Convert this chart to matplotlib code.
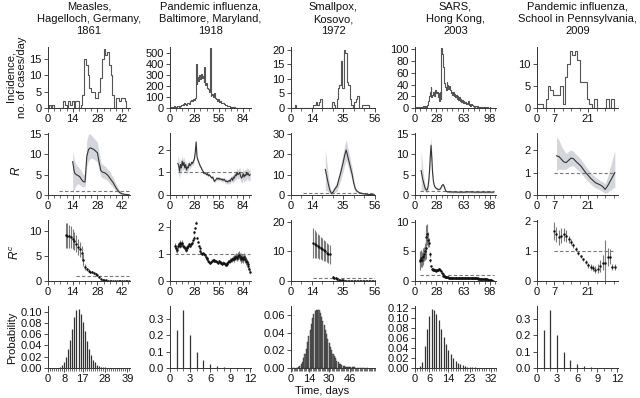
import numpy as np
import matplotlib
matplotlib.use("Agg")
import matplotlib.pyplot as plt
from matplotlib.ticker import FixedLocator, MultipleLocator

plt.rcParams['font.family'] = ['Liberation Sans', 'DejaVu Sans']
plt.rcParams['font.size'] = 8
plt.rcParams['mathtext.fontset'] = 'custom'
plt.rcParams['mathtext.it'] = 'Liberation Sans:italic'
plt.rcParams['mathtext.rm'] = 'Liberation Sans'

TITLES = ["Measles,\nHagelloch, Germany,\n1861",
          "Pandemic influenza,\nBaltimore, Maryland,\n1918",
          "Smallpox,\nKosovo,\n1972",
          "SARS,\nHong Kong,\n2003",
          "Pandemic influenza,\nSchool in Pennsylvania,\n2009"]

# --- row 1: daily incidence (first day of each series is day 0) ---
inc_measles = [0, 1, 0, 1, 0, 0, 0, 0, 0, 2,
               1, 0, 2, 1, 2, 0, 2, 2, 0, 1,
               4, 15, 13, 10, 6, 5, 5, 3, 3, 5,
               9, 15, 18, 16, 17, 13, 10, 4, 0, 3,
               3, 2, 3, 3, 2, 0, 0]
inc_baltimore = [5, 8, 10, 12, 8, 15, 10, 12, 20, 15,
                 18, 12, 20, 25, 30, 40, 28, 45, 35, 30,
                 45, 50, 40, 55, 60, 70, 65, 80, 75, 90,
                 400, 220, 280, 250, 300, 260, 310, 270, 290, 240,
                 370, 210, 230, 180, 170, 150, 550, 110, 120, 130,
                 100, 140, 90, 80, 70, 60, 85, 55, 60, 50,
                 45, 50, 35, 40, 30, 25, 20, 18, 15, 12,
                 10, 8, 6, 5, 5, 4, 4, 3, 3, 2,
                 3, 2, 2, 1, 2, 1, 1, 1, 0, 1,
                 0, 1, 0]
inc_kosovo = [0, 0, 0, 1, 0, 0, 0, 0, 0, 0,
              0, 0, 0, 0, 0, 1, 1, 2, 1, 2,
              3, 0, 0, 0, 0, 0, 0, 0, 2, 1,
              0, 3, 7, 8, 16, 7, 20, 19, 9, 8,
              3, 1, 0, 2, 3, 4, 0, 0, 1, 1,
              1, 1, 1, 0, 0, 0, 0]
inc_sars = [0, 0, 1, 0, 2, 1, 0, 1, 2, 1,
            2, 3, 1, 2, 3, 2, 5, 8, 12, 20,
            28, 35, 18, 22, 28, 24, 20, 30, 26, 28,
            18, 25, 12, 28, 15, 102, 92, 70, 50, 42,
            35, 30, 44, 40, 33, 38, 30, 25, 28, 22,
            28, 20, 24, 18, 22, 15, 20, 14, 18, 12,
            15, 10, 14, 9, 12, 8, 10, 7, 9, 6,
            12, 5, 7, 4, 6, 5, 3, 4, 2, 3,
            4, 2, 3, 1, 2, 1, 2, 1, 1, 0,
            1, 2, 0, 1, 0, 1, 0, 0, 1, 0,
            0, 0, 0]
inc_penn = [1, 1, 1, 0, 2, 5, 4, 3, 3, 3,
            5, 1, 7, 10, 13, 12, 13, 11, 6, 6,
            6, 2, 1, 0, 2, 0, 0, 0, 0, 2,
            0, 2, 0]

# --- row 2: case reproduction number R with band ---
r_measles_start = 14
r_measles = [8.2, 5.5, 5.0, 4.8, 4.5, 3.8, 3.3, 3.2, 9.5, 11.2,
             11.6, 11.4, 11.2, 10.8, 10.4, 8.0, 6.0, 5.6, 5.5, 5.2,
             4.8, 4.2, 3.6, 3.0, 2.2, 1.5, 0.9, 0.5, 0.3, 0.2,
             0.15, 0.1, 0.05]
r_measles_lo = [1.0, 1.5, 2.5, 2.8, 2.5, 2.2, 2.0, 2.0, 7.0, 8.5,
                9.0, 9.0, 8.8, 8.5, 8.0, 6.0, 4.5, 4.2, 4.0, 3.8,
                3.4, 2.8, 2.3, 1.8, 1.2, 0.8, 0.4, 0.2, 0.1, 0.05,
                0.03, 0.02, 0.0]
r_measles_hi = [11.0, 8.5, 7.5, 7.0, 6.5, 5.8, 5.0, 5.0, 13.5, 15.0,
                15.0, 14.5, 14.0, 13.5, 13.0, 10.5, 8.0, 7.5, 7.2, 6.8,
                6.3, 5.8, 5.0, 4.3, 3.3, 2.4, 1.6, 1.0, 0.6, 0.4,
                0.3, 0.2, 0.1]

r_balt_start = 9
r_balt = [1.40, 1.30, 1.05, 1.35, 1.20, 1.50, 1.30, 1.45, 1.20, 1.35,
          1.10, 1.25, 1.20, 1.40, 1.30, 1.35, 1.45, 1.40, 1.50, 1.60,
          1.90, 2.35, 1.70, 1.55, 1.45, 1.35, 1.25, 1.20, 1.10, 1.05,
          0.95, 1.00, 0.95, 0.90, 0.95, 0.85, 0.90, 0.85, 0.80, 0.75,
          0.80, 0.70, 0.60, 0.65, 0.70, 0.75, 0.70, 0.75, 0.70, 0.72,
          0.68, 0.70, 0.65, 0.70, 0.65, 0.60, 0.62, 0.58, 0.60, 0.65,
          0.60, 0.70, 0.75, 0.65, 0.80, 0.75, 0.90, 0.85, 1.00, 0.90,
          0.95, 1.00, 0.85, 0.75, 0.80, 0.95, 0.80, 0.90, 0.85, 1.00,
          0.90, 0.95, 0.85, 0.90]
r_balt_hw = [0.35, 0.35, 0.30, 0.30, 0.30, 0.30, 0.25, 0.25, 0.25, 0.20,
             0.20, 0.20, 0.15, 0.15, 0.15, 0.12, 0.12, 0.10, 0.10, 0.10,
             0.10, 0.12, 0.10, 0.08, 0.08, 0.08, 0.07, 0.07, 0.07, 0.07,
             0.06, 0.06, 0.06, 0.06, 0.06, 0.06, 0.06, 0.06, 0.06, 0.06,
             0.07, 0.07, 0.07, 0.07, 0.07, 0.07, 0.08, 0.08, 0.08, 0.08,
             0.08, 0.09, 0.09, 0.10, 0.10, 0.10, 0.10, 0.11, 0.11, 0.12,
             0.12, 0.13, 0.14, 0.15, 0.16, 0.17, 0.18, 0.20, 0.20, 0.20,
             0.22, 0.22, 0.22, 0.22, 0.24, 0.25, 0.25, 0.25, 0.25, 0.25,
             0.25, 0.25, 0.25, 0.25]

r_kos_start = 23
r_kos = [12.5, 9.0, 5.5, 2.5, 0.8, 1.2, 2.5, 3.5, 4.5, 7.5,
         10.0, 13.0, 16.0, 19.5, 22.0, 19.0, 16.0, 13.0, 10.0, 6.0,
         3.2, 2.0, 1.5, 1.1, 0.9, 0.7, 0.55, 0.45, 0.35, 0.3,
         0.25, 0.2, 0.15, 0.1]
r_kos_hw = [10.0, 7.0, 4.0, 2.0, 1.0, 1.2, 1.5, 2.0, 2.5, 3.0,
            3.5, 4.0, 4.5, 5.0, 5.0, 4.5, 4.0, 3.5, 3.0, 2.0,
            1.2, 0.8, 0.6, 0.5, 0.4, 0.3, 0.3, 0.2, 0.2, 0.2,
            0.1, 0.1, 0.1, 0.1]

r_sars_start = 8
r_sars = [6.0, 5.0, 4.0, 3.2, 2.5, 1.8, 1.4, 1.2, 1.3, 2.0,
          3.5, 6.0, 9.5, 12.2, 9.0, 5.5, 3.5, 2.5, 2.0, 1.8,
          1.6, 1.5, 1.4, 1.35, 1.4, 1.5, 1.8, 2.2, 2.5, 2.5,
          2.2, 1.6, 1.1, 0.90, 0.80, 0.78, 0.76,
          0.76, 0.75, 0.75, 0.74, 0.74, 0.73, 0.73, 0.72, 0.72, 0.72,
          0.71, 0.71, 0.70, 0.70, 0.70, 0.70, 0.70, 0.70, 0.70, 0.70,
          0.71, 0.72, 0.73, 0.74, 0.75, 0.76, 0.76, 0.75, 0.74, 0.73,
          0.72, 0.72, 0.71, 0.70, 0.70, 0.70, 0.70, 0.70, 0.70, 0.70,
          0.70, 0.70, 0.70, 0.70, 0.70, 0.70, 0.70, 0.70, 0.70, 0.70,
          0.70, 0.70, 0.70, 0.70, 0.70, 0.70, 0.70, 0.70, 0.70]
r_sars_hw = [5.0, 4.0, 3.0, 2.0, 1.5, 1.0, 0.7, 0.6, 0.6, 0.8,
             1.2, 1.5, 2.0, 2.0, 1.5, 1.0, 0.6, 0.4, 0.3, 0.3,
             0.25, 0.25, 0.2, 0.2, 0.2, 0.25, 0.3, 0.35, 0.4, 0.4,
             0.35, 0.3, 0.25, 0.25, 0.25, 0.25, 0.25,
             0.25, 0.25, 0.25, 0.25, 0.25, 0.25, 0.25, 0.25, 0.25, 0.25,
             0.25, 0.25, 0.25, 0.25, 0.25, 0.25, 0.25, 0.25, 0.25, 0.25,
             0.25, 0.25, 0.25, 0.25, 0.25, 0.25, 0.25, 0.25, 0.25, 0.25,
             0.25, 0.25, 0.25, 0.25, 0.25, 0.25, 0.25, 0.25, 0.25, 0.25,
             0.25, 0.25, 0.25, 0.25, 0.25, 0.25, 0.25, 0.25, 0.25, 0.25,
             0.25, 0.25, 0.25, 0.25, 0.25, 0.25, 0.25, 0.25, 0.25]

r_penn_start = 8
r_penn = [1.75, 1.72, 1.60, 1.48, 1.45, 1.55, 1.65, 1.62, 1.50, 1.40,
          1.30, 1.15, 1.00, 0.88, 0.75, 0.65, 0.55, 0.50, 0.45, 0.38,
          0.25, 0.40, 0.60, 0.80, 1.00]
r_penn_lo = [1.10, 1.15, 1.15, 1.15, 1.15, 1.25, 1.30, 1.30, 1.20, 1.10,
             1.00, 0.85, 0.72, 0.60, 0.50, 0.40, 0.32, 0.28, 0.22, 0.15,
             0.08, 0.12, 0.20, 0.28, 0.35]
r_penn_hi = [2.60, 2.45, 2.20, 2.00, 1.85, 1.95, 2.00, 1.95, 1.82, 1.72,
             1.60, 1.45, 1.28, 1.15, 1.00, 0.90, 0.80, 0.72, 0.65, 0.60,
             0.50, 0.80, 1.20, 1.60, 2.00]

# --- row 3: corrected R^c with error bars ---
rc_measles_start = 10
rc_measles = [9.2, 9.1, 9.0, 8.8, 8.5, 8.0, 7.5, 6.8, 6.4, 5.6,
              4.2, 2.9, 2.4, 2.1, 1.9, 1.8, 1.6, 1.5, 1.2, 0.8,
              0.5, 0.3, 0.2, 0.12, 0.08, 0.06, 0.05, 0.04, 0.04, 0.03,
              0.03, 0.03, 0.02, 0.02, 0.02, 0.02, 0.02]
rc_measles_err = [2.5, 2.5, 2.3, 2.2, 2.0, 1.8, 1.7, 1.6, 1.5, 1.4,
                  1.2, 0.6, 0.3, 0.25, 0.2, 0.2, 0.2, 0.2, 0.2, 0.15,
                  0.1, 0.08, 0.06, 0.05, 0.04, 0.03, 0.03, 0.02, 0.02, 0.02,
                  0.02, 0.02, 0.02, 0.02, 0.02, 0.02, 0.02]

rc_balt_start = 6
rc_balt = [1.30, 1.20, 1.15, 1.30, 1.35, 1.40, 1.30, 1.35, 1.40, 1.30,
           1.25, 1.20, 1.15, 1.20, 1.25, 1.30, 1.35, 1.30, 1.35, 1.40,
           1.50, 1.60, 1.80, 1.95, 2.15, 1.60, 1.45, 1.30, 1.20, 1.10,
           1.05, 1.00, 1.02, 1.00, 0.95, 0.90, 0.85, 0.80, 0.75, 0.70,
           0.65, 0.70, 0.75, 0.78, 0.75, 0.78, 0.75, 0.72, 0.70, 0.68,
           0.72, 0.70, 0.68, 0.66, 0.64, 0.68, 0.66, 0.62, 0.60, 0.62,
           0.65, 0.70, 0.72, 0.75, 0.78, 0.80, 0.82, 0.85, 0.80, 0.88,
           0.90, 0.85, 0.92, 0.95, 0.88, 0.82, 0.90, 0.85, 0.80, 0.88,
           0.82, 0.75, 0.70, 0.62, 0.55, 0.45, 0.35]
rc_balt_err = [0.12, 0.12, 0.12, 0.12, 0.10, 0.10, 0.10, 0.10, 0.10, 0.10,
               0.08, 0.08, 0.08, 0.08, 0.07, 0.07, 0.07, 0.06, 0.06, 0.06,
               0.05, 0.05, 0.05, 0.05, 0.05, 0.04, 0.04, 0.04, 0.03, 0.03,
               0.03, 0.03, 0.03, 0.03, 0.03, 0.03, 0.03, 0.03, 0.03, 0.03,
               0.03, 0.03, 0.03, 0.03, 0.03, 0.03, 0.03, 0.03, 0.03, 0.03,
               0.04, 0.04, 0.04, 0.04, 0.05, 0.05, 0.05, 0.05, 0.06, 0.06,
               0.06, 0.07, 0.07, 0.08, 0.08, 0.09, 0.10, 0.10, 0.11, 0.12,
               0.12, 0.13, 0.14, 0.14, 0.15, 0.15, 0.15, 0.15, 0.15, 0.15,
               0.15, 0.15, 0.12, 0.10, 0.10, 0.08, 0.06]

rc_kos_start = 15
rc_kos = [12.8, 12.5, 12.2, 11.8, 11.5, 11.2, 10.8, 10.4, 10.0, 9.6, 9.2, 9.0,
          np.nan,
          1.2, 1.1, 0.9, 0.7, 0.5, 0.35, 0.25, 0.18, 0.12, 0.1,
          0.08, 0.07, 0.06, 0.06, 0.05, 0.05, 0.05, 0.04, 0.04, 0.04,
          0.04, 0.03, 0.03, 0.03, 0.03, 0.03, 0.02, 0.02, 0.02]
rc_kos_err = [5.0, 4.8, 4.5, 4.2, 4.0, 3.8, 3.6, 3.5, 3.4, 3.3, 3.2, 3.2,
              np.nan,
              0.4, 0.35, 0.3, 0.25, 0.2, 0.15, 0.12, 0.1, 0.08, 0.06,
              0.05, 0.05, 0.04, 0.04, 0.04, 0.03, 0.03, 0.03, 0.03, 0.03,
              0.02, 0.02, 0.02, 0.02, 0.02, 0.02, 0.02, 0.02, 0.02]

rc_sars_start = 6
rc_sars = [3.5, 3.3, 3.8, 3.6, 4.0, 4.3, 4.6, 5.0, 5.5, 7.5,
           7.9, 7.0, 6.5, 4.5, 3.5, 2.6, 2.1, 2.0, 1.9, 1.85,
           1.8, 1.8, 1.75, 1.8, 1.85, 1.95, 2.0, 1.9, 1.7, 1.4,
           1.1, 0.9, 0.8, 0.7, 0.65, 0.62, 0.6, 0.6, 0.58, 0.57,
           0.56, 0.55, 0.55, 0.54, 0.54, 0.53, 0.53, 0.52, 0.52, 0.52,
           0.51, 0.51, 0.5, 0.5, 0.5, 0.5, 0.5, 0.5, 0.5, 0.5,
           0.5, 0.49, 0.49, 0.49, 0.48, 0.48, 0.48, 0.47, 0.47, 0.47,
           0.46, 0.46, 0.45, 0.45, 0.44, 0.44, 0.43, 0.42, 0.42, 0.41,
           0.4, 0.39, 0.38, 0.37, 0.36, 0.34, 0.32, 0.3, 0.28, 0.25,
           0.22, 0.19, 0.16, 0.13, 0.1, 0.07, 0.05]
rc_sars_err = [1.5, 1.5, 1.4, 1.3, 1.3, 1.2, 1.2, 1.5, 1.8, 2.0,
               1.8, 1.2, 0.8, 0.4, 0.25, 0.15, 0.12, 0.1, 0.1, 0.1,
               0.1, 0.1, 0.1, 0.1, 0.1, 0.1, 0.1, 0.1, 0.1, 0.1,
               0.08, 0.08, 0.08, 0.08, 0.08, 0.08, 0.08, 0.08, 0.08, 0.08,
               0.05, 0.05, 0.05, 0.05, 0.05, 0.05, 0.05, 0.05, 0.05, 0.05,
               0.05, 0.05, 0.05, 0.05, 0.05, 0.05, 0.05, 0.05, 0.05, 0.05,
               0.05, 0.05, 0.05, 0.05, 0.05, 0.05, 0.05, 0.05, 0.05, 0.05,
               0.05, 0.05, 0.05, 0.05, 0.05, 0.05, 0.05, 0.05, 0.05, 0.05,
               0.05, 0.05, 0.05, 0.05, 0.05, 0.05, 0.05, 0.05, 0.05, 0.05,
               0.05, 0.05, 0.05, 0.05, 0.05, 0.05, 0.05]

rc_penn_start = 7
rc_penn = [1.65, 1.55, 1.45, 1.50, 1.55, 1.50, 1.38, 1.28, 1.18, 1.05,
           0.92, 0.82, 0.72, 0.62, 0.52, 0.46, 0.42, 0.38, 0.40, 0.50,
           0.60, 0.60, 0.80, 0.80, 0.45, 0.45]
rc_penn_err = [0.30, 0.25, 0.25, 0.25, 0.22, 0.20, 0.12, 0.10, 0.08, 0.06,
               0.05, 0.05, 0.05, 0.06, 0.08, 0.10, 0.10, 0.12, 0.15, 0.20,
               0.25, 0.75, 0.30, 0.25, 0.10, 0.10]

# --- row 4: serial interval / generation time distributions (day 0 first) ---
gi_measles = [0, 0, 0, 0, 0, 0, 0.002, 0.005, 0.011, 0.020,
              0.033, 0.050, 0.070, 0.090, 0.103, 0.105, 0.096, 0.082, 0.065, 0.048,
              0.034, 0.023, 0.015, 0.010, 0.006, 0.004, 0.002, 0.001, 0.001, 0.0005,
              0.0005, 0, 0, 0, 0, 0, 0, 0, 0, 0]
gi_flu = [0, 0.23, 0.355, 0.20, 0.10, 0.05, 0.025, 0.012, 0.006, 0.003,
          0.0015, 0.0008, 0.0004]
gi_smallpox = [0.0005, 0.0005, 0.0005, 0.0005, 0.0005, 0.0005, 0.0008, 0.002, 0.004, 0.007,
               0.011, 0.016, 0.022, 0.029, 0.036, 0.043, 0.050, 0.056, 0.061, 0.064,
               0.066, 0.066, 0.065, 0.062, 0.058, 0.053, 0.048, 0.043, 0.038, 0.033,
               0.028, 0.024, 0.020, 0.016, 0.013, 0.011, 0.008, 0.007, 0.005, 0.004,
               0.003, 0.002, 0.002, 0.0015, 0.001, 0.001, 0.001, 0.0008, 0.0008, 0.0006,
               0.0006, 0.0005, 0.0005, 0.0005, 0.0005, 0.0005, 0.0005, 0.0005, 0.0005, 0.0005,
               0.0005]
gi_sars = [0, 0, 0.003, 0.012, 0.043, 0.078, 0.104, 0.117, 0.116, 0.108,
           0.095, 0.078, 0.062, 0.048, 0.035, 0.027, 0.020, 0.014, 0.010, 0.007,
           0.005, 0.003, 0.002, 0.0015, 0.001, 0.001, 0.0008, 0.0006, 0.0005, 0.0004,
           0.0003, 0.0002, 0.0002]

inc_all = [inc_measles, inc_baltimore, inc_kosovo, inc_sars, inc_penn]
r_all = [
    (r_measles_start, r_measles, r_measles_lo, r_measles_hi),
    (r_balt_start, r_balt, None, r_balt_hw),
    (r_kos_start, r_kos, None, r_kos_hw),
    (r_sars_start, r_sars, None, r_sars_hw),
    (r_penn_start, r_penn, r_penn_lo, r_penn_hi),
]
rc_all = [
    (rc_measles_start, rc_measles, rc_measles_err),
    (rc_balt_start, rc_balt, rc_balt_err),
    (rc_kos_start, rc_kos, rc_kos_err),
    (rc_sars_start, rc_sars, rc_sars_err),
    (rc_penn_start, rc_penn, rc_penn_err),
]
gi_all = [gi_measles, gi_flu, gi_smallpox, gi_sars, gi_flu]

# --- layout ---
W, H = 640, 398
COL_X = [(48, 130), (170, 251), (291, 375), (415, 496), (537, 618)]
ROW_Y = [(47, 108), (133, 195), (220, 281), (306, 368)]
XLIM = [46.5, 93, 56.3, 106, 33.3]
XTICKS = [[0, 14, 28, 42], [0, 28, 56, 84], [0, 14, 35, 56], [0, 28, 63, 98], [0, 7, 21]]
XMINOR = [3.5, 7, 7, 7, 3.5]
YLIM = [[18.5, 555, 20.9, 104, 13.9],
        [15.25, 2.75, 30.3, 15.2, 2.77],
        [12.2, 2.25, 20.6, 10.3, 2.02],
        [0.11, 0.38, 0.07, 0.123, 0.38]]
YTICKS = [[[0, 5, 10, 15], [0, 100, 200, 300, 400, 500], [0, 5, 10, 15, 20],
           [0, 20, 40, 60, 80, 100], [0, 5, 10]],
          [[0, 5, 10, 15], [0, 1, 2], [0, 10, 20, 30], [0, 5, 10, 15], [0, 1, 2]],
          [[0, 5, 10], [0, 1, 2], [0, 10, 20], [0, 5, 10], [0, 1, 2]],
          [[0, 0.02, 0.04, 0.06, 0.08, 0.10], [0, 0.1, 0.2, 0.3],
           [0, 0.02, 0.04, 0.06], [0, 0.02, 0.04, 0.06, 0.08, 0.10, 0.12], [0, 0.1, 0.2, 0.3]]]
GI_XLIM = [40.3, 12.1, 66, 34, 12.1]
GI_XTICKS = [[0, 8, 17, 28, 39], [0, 3, 6, 9, 12], [0, 14, 30, 46],
             [0, 6, 14, 23, 32], [0, 3, 6, 9, 12]]
GI_FMT = ["{:.2f}", "{:.1f}", "{:.2f}", "{:.2f}", "{:.1f}"]
R_DASH = [(6, 46), (9, 92), (8, 56), (7, 103), (7, 32)]
RC_DASH = [(16, 46), (6, 92), (15, 56), (6, 103), (7, 32)]

LINE = "#333333"
BAND = "#d3d6db"
DASH = "#777777"

fig = plt.figure(figsize=(6.4, 3.98), dpi=100)


def make_ax(r, c):
    x0, x1 = COL_X[c]
    y0, y1 = ROW_Y[r]
    ax = fig.add_axes([x0 / W, 1 - y1 / H, (x1 - x0) / W, (y1 - y0) / H])
    for s in ("top", "right"):
        ax.spines[s].set_visible(False)
    for s in ("left", "bottom"):
        ax.spines[s].set_linewidth(0.7)
        ax.spines[s].set_color("#333333")
    ax.tick_params(which="major", direction="out", length=3, width=0.6,
                   pad=1.5, labelsize=8, colors="#333333", labelcolor="#111111")
    ax.tick_params(which="minor", direction="out", length=2, width=0.5, colors="#333333")
    ax.set_facecolor("none")
    return ax


for c in range(5):
    # row 1: incidence
    ax = make_ax(0, c)
    days = np.arange(len(inc_all[c]))
    ax.step(days, inc_all[c], where="mid", color="#555555", lw=0.8)
    ax.set_xlim(0, XLIM[c])
    ax.set_ylim(0, YLIM[0][c])
    ax.xaxis.set_major_locator(FixedLocator(XTICKS[c]))
    ax.xaxis.set_minor_locator(MultipleLocator(XMINOR[c]))
    ax.yaxis.set_major_locator(FixedLocator(YTICKS[0][c]))

    # row 2: R with band
    ax = make_ax(1, c)
    start, vals, lo, hi = r_all[c]
    vals = np.array(vals)
    days = np.arange(start, start + len(vals))
    if lo is None:
        lo_v, hi_v = vals - np.array(hi), vals + np.array(hi)
    else:
        lo_v, hi_v = np.array(lo), np.array(hi)
    ax.fill_between(days, np.clip(lo_v, 0, None), hi_v, color=BAND, lw=0)
    ax.hlines(1, *R_DASH[c], colors=DASH, linestyles=(0, (3, 2)), lw=0.8)
    ax.plot(days, vals, color=LINE, lw=0.8)
    ax.set_xlim(0, XLIM[c])
    ax.set_ylim(0, YLIM[1][c])
    ax.xaxis.set_major_locator(FixedLocator(XTICKS[c]))
    ax.xaxis.set_minor_locator(MultipleLocator(XMINOR[c]))
    ax.yaxis.set_major_locator(FixedLocator(YTICKS[1][c]))

    # row 3: R^c with error bars
    ax = make_ax(2, c)
    start, vals, err = rc_all[c]
    vals = np.array(vals, dtype=float)
    err = np.array(err, dtype=float)
    days = np.arange(start, start + len(vals))
    lower = np.minimum(err, vals)
    ax.hlines(1, *RC_DASH[c], colors=DASH, linestyles=(0, (3, 2)), lw=0.8)
    ax.errorbar(days, vals, yerr=[lower, err], fmt="o", ms=1.4, mfc="#111111",
                mec="#111111", mew=0.3, ecolor="#7a7a7a", elinewidth=0.8, capsize=0)
    ax.set_xlim(0, XLIM[c])
    ax.set_ylim(0, YLIM[2][c])
    ax.xaxis.set_major_locator(FixedLocator(XTICKS[c]))
    ax.xaxis.set_minor_locator(MultipleLocator(XMINOR[c]))
    ax.yaxis.set_major_locator(FixedLocator(YTICKS[2][c]))

    # row 4: interval distribution
    ax = make_ax(3, c)
    g = gi_all[c]
    days = np.arange(len(g))
    if c == 2:
        ax.bar(days, g, width=0.85, color="#6e6e6e", edgecolor="#2a2a2a", lw=0.3)
    else:
        ax.vlines(days, 0, g, colors="#333333", lw=0.9)
    ax.set_xlim(0, GI_XLIM[c])
    ax.set_ylim(0, YLIM[3][c])
    ax.xaxis.set_major_locator(FixedLocator(GI_XTICKS[c]))
    ax.xaxis.set_minor_locator(MultipleLocator(1))
    ax.yaxis.set_major_locator(FixedLocator(YTICKS[3][c]))
    ax.set_yticklabels([GI_FMT[c].format(v) for v in YTICKS[3][c]])

    # column title
    x0, x1 = COL_X[c]
    fig.text((x0 + x1) / 2 / W, 1 - 19 / H, TITLES[c], ha="center", va="center",
             fontsize=8, linespacing=1.3, color="#111111")

# row labels
fig.text(16 / W, 1 - 77 / H, "Incidence,\nno. of cases/day", rotation=90,
         ha="center", va="center", fontsize=8, linespacing=1.15, color="#111111")
fig.text(16 / W, 1 - 171 / H, r"$R$", rotation=90, ha="center", va="center",
         fontsize=8.5, color="#111111")
fig.text(15 / W, 1 - 252 / H, r"$R^c$", rotation=90, ha="center", va="center",
         fontsize=8.5, color="#111111")
fig.text(12 / W, 1 - 338 / H, "Probability", rotation=90, ha="center",
         va="center", fontsize=8, color="#111111")
fig.text(322 / W, 1 - 391 / H, "Time, days", ha="center", va="center",
         fontsize=8, color="#111111")

fig.savefig("out.png", dpi=100)
